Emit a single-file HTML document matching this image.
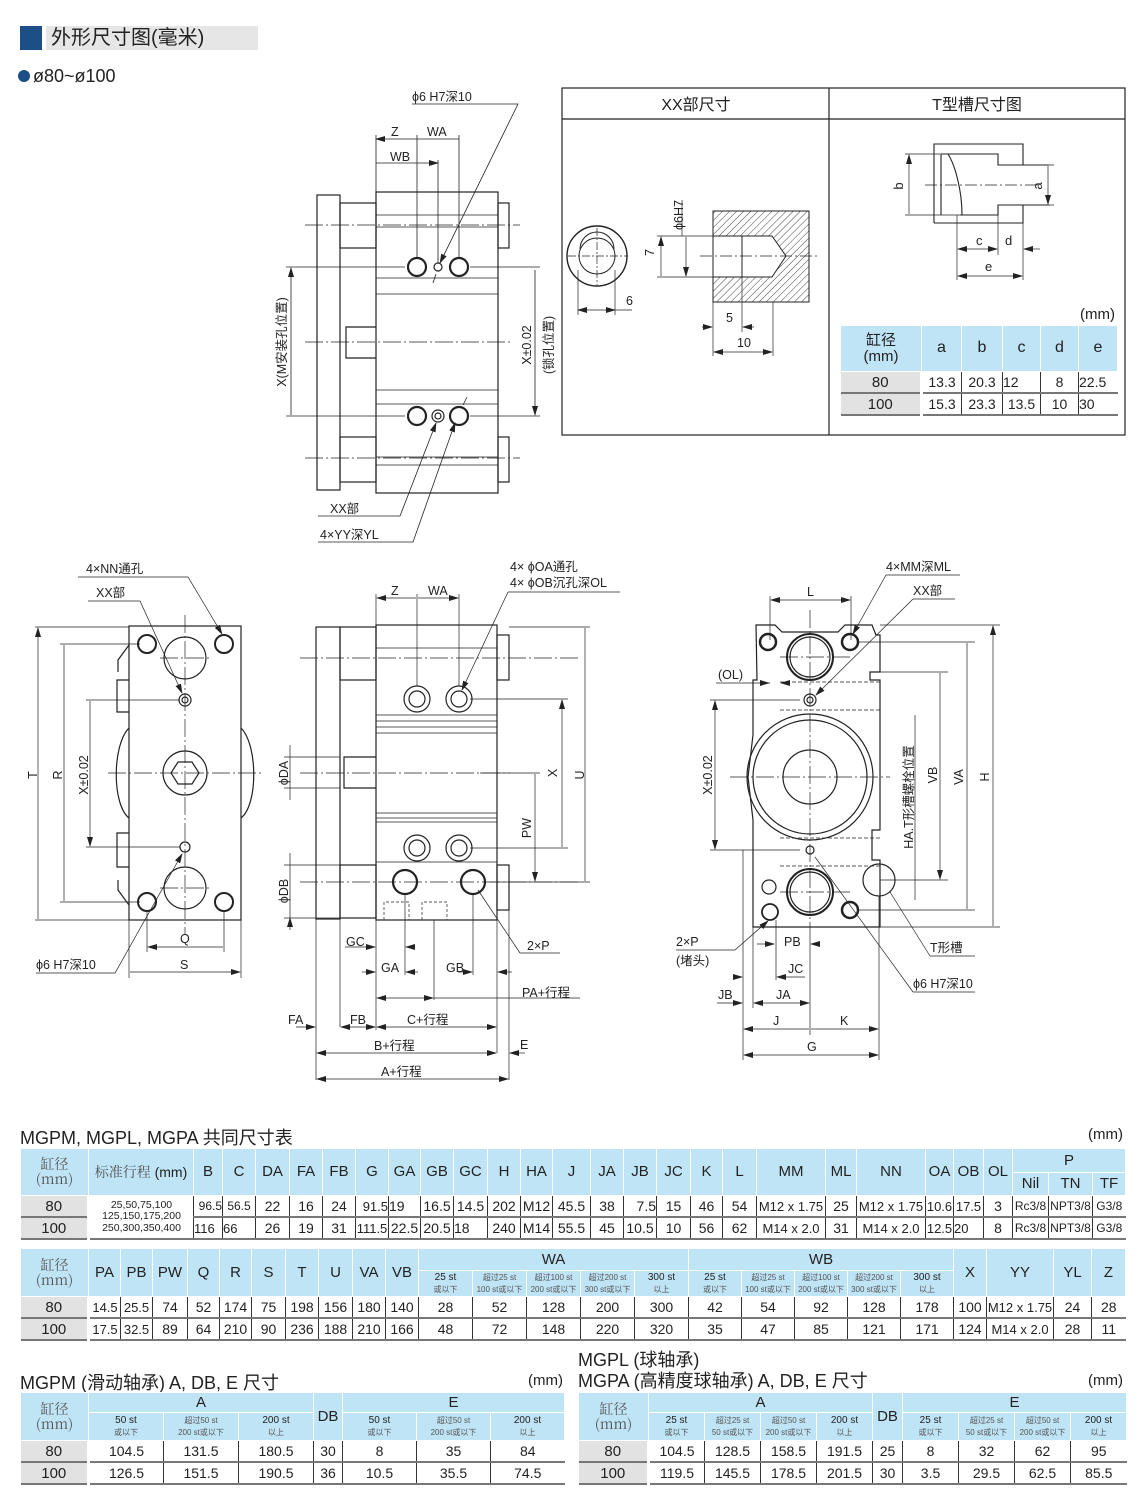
<!DOCTYPE html>
<html><head><meta charset="utf-8">
<style>
html,body{margin:0;padding:0;background:#fff;}
body{width:1140px;height:1504px;position:relative;overflow:hidden;font-family:"Liberation Sans","Noto Sans CJK SC",sans-serif;color:#222;}
.ab{position:absolute;white-space:nowrap;}
table.t{position:absolute;border-collapse:collapse;table-layout:fixed;font-family:"Liberation Sans","Noto Sans CJK SC",sans-serif;}
table.t th{background:#bfe4f6;border:1px solid #fff;font-weight:normal;font-size:15px;padding:0;text-align:center;line-height:1.05;}
table.t th.s{font-size:10px;line-height:1.15;}
table.t th.s i{font-style:normal;font-size:8px;color:#555;}
table.t td{border-left:1px solid #333;border-bottom:2px solid #777;height:20px;padding:0;text-align:center;font-size:14px;line-height:1;}
table.t td.g{background:#e2e2e2;border-left:none;border-right:3px solid #fff;font-size:15px;}
table.t td.sm{font-size:10.5px;line-height:1.1;}
table.t th.cj{font-family:"Noto Serif CJK SC",serif;font-size:14px;color:#555;}
</style></head><body>

<div class="ab" style="left:20px;top:26px;width:22px;height:24px;background:#1c4f85"></div>
<div class="ab" style="left:46px;top:26px;width:212px;height:24px;background:#e6e6e6"></div>
<div class="ab" style="left:51px;top:25px;font-size:20px;line-height:26px">外形尺寸图(毫米)</div>
<div class="ab" style="left:18px;top:70px;width:12px;height:12px;border-radius:50%;background:#1c4f85"></div>
<div class="ab" style="left:33px;top:65px;font-size:18px;line-height:22px">ø80~ø100</div>

<svg class="ab" style="left:0;top:0" width="1140" height="1110" viewBox="0 0 1140 1110" font-family="Liberation Sans, Noto Sans CJK SC, sans-serif" font-size="12.5" fill="none" stroke="#222">
<defs>
<marker id="ar" markerWidth="10" markerHeight="6" refX="9" refY="3" orient="auto-start-reverse" markerUnits="userSpaceOnUse"><path d="M0,0 L10,3 L0,6 z" fill="#222" stroke="none"/></marker>
<pattern id="hat" width="5" height="5" patternUnits="userSpaceOnUse" patternTransform="rotate(45)"><line x1="0" y1="0" x2="0" y2="5" stroke="#444" stroke-width="1"/></pattern>
</defs>

<!-- ===== top middle view ===== -->
<g stroke-width="1.2">
<rect x="317" y="195" width="23" height="295"/>
<rect x="340" y="203" width="36" height="45"/><rect x="340" y="437" width="36" height="45"/>
<rect x="376" y="192" width="122" height="301"/>
<rect x="498" y="203" width="11" height="45"/><rect x="498" y="437" width="11" height="45"/>
<path d="M376,327 H346 V358 H376 M346,327 v31"/>
<circle cx="417" cy="267" r="9" stroke-width="2.2"/><circle cx="459" cy="267" r="9" stroke-width="2.2"/><circle cx="438" cy="267" r="4"/>
<circle cx="417" cy="416" r="9" stroke-width="2.2"/><circle cx="459" cy="416" r="9" stroke-width="2.2"/><circle cx="438" cy="416" r="6"/><circle cx="438" cy="416" r="3"/>
</g>
<g stroke-width="0.8">
<path d="M376,215 H498 M376,227 H498 M376,278 H498 M376,294 H498 M376,390 H498 M376,404 H498 M376,457 H498 M376,465 H498"/>
<path d="M305,225 H520 M305,342 H510 M305,458 H520" stroke-dasharray="18,3,2,3"/>
<path d="M286,267 H405 M286,416 H405 M470,267 H540 M470,416 H540"/>
<path d="M376,135 V192 M417,135 V258 M459,135 V258 M438,160 V263"/>
<path d="M376,139 H417 M417,139 H459 M376,163 H438" marker-start="url(#ar)" marker-end="url(#ar)"/>
<path d="M291,268 V415 M535,270 V415" marker-start="url(#ar)" marker-end="url(#ar)"/>
<path d="M412,104 H518 L440,263" marker-end="url(#ar)"/><path d="M433,283 L436,274"/>
<path d="M318,516 H400 L436,423" marker-end="url(#ar)"/>
<path d="M318,542 H413 L455,423" marker-end="url(#ar)"/><path d="M463,405 L467,397"/>
</g>
<g fill="#222" stroke="none">
<text x="412" y="101">ϕ6 H7深10</text><text x="391" y="136">Z</text><text x="427" y="136">WA</text><text x="390" y="161">WB</text>
<text x="330" y="513">XX部</text><text x="320" y="539">4×YY深YL</text>
<text transform="translate(286,342) rotate(-90)" text-anchor="middle">X(M安装孔位置)</text>
<text transform="translate(531,345) rotate(-90)" text-anchor="middle">X±0.02</text>
<text transform="translate(553,345) rotate(-90)" text-anchor="middle">(锁孔位置)</text>
</g>

<!-- ===== XX / T-slot box ===== -->
<g stroke-width="1.2"><rect x="562" y="88" width="563" height="347"/><path d="M829,88 V435 M562,119 H1125"/></g>
<g fill="#222" stroke="none" font-size="16"><text x="696" y="110" text-anchor="middle">XX部尺寸</text><text x="977" y="110" text-anchor="middle">T型槽尺寸图</text></g>
<g stroke-width="1">
<circle cx="597" cy="256" r="30" stroke-width="1.4"/><circle cx="597" cy="256" r="18"/><path d="M580,249 a17,17 0 0 1 34,0" />
<rect x="713" y="211" width="96" height="91" fill="url(#hat)"/>
<path d="M713,236 H772 L786,256 L772,277 H713 Z" fill="#fff"/>
<path d="M742,236 V277"/>
</g>
<g stroke-width="0.7">
<path d="M568,256 H628 M597,228 V285" stroke-dasharray="8,2,2,2"/>
<path d="M700,256 H820" stroke-dasharray="12,3,2,3"/>
<path d="M578,270 V315 M615,270 V315 M615,310 H632"/>
<path d="M578,310 H615" marker-start="url(#ar)" marker-end="url(#ar)"/>
<path d="M657,236 H713 M657,277 H713 M682,200 V236"/>
<path d="M661,237 V276 M686,237 V276" marker-start="url(#ar)" marker-end="url(#ar)"/>
<path d="M713,302 V356 M742,277 V332 M773,302 V356"/>
<path d="M702,327 H712" marker-end="url(#ar)"/><path d="M754,327 H743" marker-end="url(#ar)"/>
<path d="M714,352 H772" marker-start="url(#ar)" marker-end="url(#ar)"/>
</g>
<g fill="#222" stroke="none"><text x="626" y="305">6</text><text x="650" y="260" transform="rotate(-90 650 256)">7</text>
<text transform="translate(683,215) rotate(-90)" text-anchor="middle">ϕ6H7</text><text x="726" y="322">5</text><text x="737" y="347">10</text></g>
<!-- T slot -->
<g stroke-width="1.1">
<path d="M934,223 V144 H1023 V165 M1023,205 V223 H934"/>
<path d="M941,215 V154 H998 V165 H1049 M1049,205 H998 V215 H960 M948,154 C955,165 962,190 962,215"/>
</g>
<g stroke-width="0.7">
<path d="M905,154 H940 M905,215 H960 M957,215 V280 M998,205 V255 M1023,223 V280 M1040,165 H1054 M1040,205 H1054"/>
<path d="M909,155 V214 M1048,166 V204" marker-start="url(#ar)" marker-end="url(#ar)"/>
<path d="M958,249 H997" marker-start="url(#ar)" marker-end="url(#ar)"/><path d="M1040,249 H1024" marker-end="url(#ar)"/>
<path d="M958,276 H1022" marker-start="url(#ar)" marker-end="url(#ar)"/>
<path d="M925,185 H1040" stroke-dasharray="12,3,2,3"/>
</g>
<g fill="#222" stroke="none" font-size="13"><text transform="translate(903,186) rotate(-90)" text-anchor="middle">b</text><text transform="translate(1042,186) rotate(-90)" text-anchor="middle">a</text>
<text x="976" y="245">c</text><text x="1005" y="245">d</text><text x="985" y="271">e</text>
<text x="1115" y="319" text-anchor="end" font-size="15">(mm)</text></g>

<!-- ===== bottom left end view ===== -->
<g stroke-width="1.2">
<rect x="129" y="626" width="112" height="294"/>
<path d="M129,680 H117 V712 H129 M129,833 H117 V867 H129 M129,645 L118,660 V672 M129,905 L118,890 V880"/>
<path d="M129,728 C112,745 112,805 129,818 M241,728 C258,745 258,805 241,818"/>
<circle cx="147" cy="644" r="9" stroke-width="2"/><circle cx="224" cy="644" r="9" stroke-width="2"/>
<circle cx="147" cy="902" r="9" stroke-width="2"/><circle cx="224" cy="902" r="9" stroke-width="2"/>
<circle cx="185" cy="658" r="21"/><circle cx="185" cy="888" r="21"/>
<circle cx="185" cy="773" r="22"/><path d="M178,762 H192 L199,773 L192,784 H178 L171,773 Z"/>
<circle cx="185" cy="700" r="6"/><circle cx="185" cy="700" r="3"/><circle cx="185" cy="847" r="5"/>
</g>
<g stroke-width="0.7">
<path d="M185,615 V935 M108,773 H262 M160,658 H210 M160,888 H210" stroke-dasharray="18,3,2,3"/>
<path d="M35,627 H129 M35,920 H129 M60,644 H140 M60,902 H140 M86,700 H180 M86,847 H180"/>
<path d="M38,628 V919 M64,645 V901 M90,701 V846" marker-start="url(#ar)" marker-end="url(#ar)"/>
<path d="M147,910 V952 M224,910 V952 M129,920 V978 M241,920 V978"/>
<path d="M148,947 H223 M130,972 H240" marker-start="url(#ar)" marker-end="url(#ar)"/>
<path d="M78,577 H188 L222,634" marker-end="url(#ar)"/>
<path d="M88,601 H140 L182,693" marker-end="url(#ar)"/>
<path d="M36,973 H115 L182,854" marker-end="url(#ar)"/>
</g>
<g fill="#222" stroke="none"><text x="86" y="573">4×NN通孔</text><text x="96" y="597">XX部</text><text x="36" y="969">ϕ6 H7深10</text>
<text x="180" y="943">Q</text><text x="180" y="969">S</text>
<text transform="translate(37,775) rotate(-90)" text-anchor="middle">T</text>
<text transform="translate(62,775) rotate(-90)" text-anchor="middle">R</text>
<text transform="translate(88,775) rotate(-90)" text-anchor="middle">X±0.02</text></g>

<!-- ===== bottom middle side view ===== -->
<g stroke-width="1.2">
<rect x="316" y="627" width="24" height="292"/>
<rect x="340" y="627" width="36" height="53"/><rect x="340" y="865" width="36" height="53"/>
<rect x="376" y="625" width="121" height="295"/>
<rect x="497" y="635" width="12" height="45"/><rect x="497" y="865" width="12" height="45"/>
<path d="M376,757 H344 V788 H376"/>
<circle cx="417" cy="699" r="13"/><circle cx="417" cy="699" r="8"/><circle cx="459" cy="699" r="13"/><circle cx="459" cy="699" r="8"/>
<circle cx="417" cy="848" r="13"/><circle cx="417" cy="848" r="8"/><circle cx="459" cy="848" r="13"/><circle cx="459" cy="848" r="8"/>
<circle cx="405" cy="882" r="12" stroke-width="2.2"/><circle cx="473" cy="882" r="12" stroke-width="2.2"/>
</g>
<g stroke-width="0.7">
<path d="M376,648 H497 M376,715 H497 M376,721 H497 M376,727 H497 M376,733 H497 M376,813 H497 M376,818 H497 M376,822 H497 M376,862 H497"/>
<path d="M384,920 V902 H409 V920 M422,920 V902 H447 V920" stroke-dasharray="3,2"/>
<path d="M300,658 H580 M300,773 H510 M300,882 H580" stroke-dasharray="18,3,2,3"/>
<path d="M284,757 H340 M284,788 H340 M284,865 H340 M284,918 H340"/>
<path d="M290,745 V757 M290,800 V788 M290,853 V865 M290,930 V918" marker-end="url(#ar)"/><path d="M290,757 V788 M290,865 V918"/>
<path d="M470,699 H568 M470,848 H568 M509,627 H590 M490,882 H590 M480,773 H540"/>
<path d="M562,700 V847 M585,628 V881 M535,774 V881" marker-start="url(#ar)" marker-end="url(#ar)"/>
<path d="M376,594 V625 M417,594 V686 M459,594 V686"/>
<path d="M377,598 H416 M418,598 H458" marker-start="url(#ar)" marker-end="url(#ar)"/>
<path d="M508,592 H620 M508,592 L462,690" marker-end="url(#ar)"/>
<path d="M520,953 H560 M520,953 L478,890"/>
<path d="M405,894 V975 M434,920 V1000 M473,894 V975 M340,918 V1027 M376,920 V1030 M316,919 V1080 M497,910 V1053 M509,910 V1080"/>
<path d="M345,947 H375" marker-end="url(#ar)"/><path d="M412,947 H406" marker-end="url(#ar)"/>
<path d="M362,972 H375" marker-end="url(#ar)"/><path d="M418,972 H406" marker-end="url(#ar)"/>
<path d="M458,972 H472" marker-end="url(#ar)"/><path d="M512,972 H498" marker-end="url(#ar)"/>
<path d="M377,998 H433" marker-start="url(#ar)" marker-end="url(#ar)"/><path d="M434,998 H580"/>
<path d="M296,1027 H315" marker-end="url(#ar)"/><path d="M341,1027 H375" marker-start="url(#ar)" marker-end="url(#ar)"/>
<path d="M377,1027 H496" marker-start="url(#ar)" marker-end="url(#ar)"/>
<path d="M317,1053 H496" marker-start="url(#ar)" marker-end="url(#ar)"/><path d="M525,1053 H510" marker-end="url(#ar)"/>
<path d="M317,1079 H508" marker-start="url(#ar)" marker-end="url(#ar)"/>
</g>
<g fill="#222" stroke="none"><text x="391" y="595">Z</text><text x="428" y="595">WA</text>
<text x="510" y="571">4× ϕOA通孔</text><text x="510" y="587">4× ϕOB沉孔深OL</text>
<text transform="translate(288,773) rotate(-90)" text-anchor="middle">ϕDA</text>
<text transform="translate(288,891) rotate(-90)" text-anchor="middle">ϕDB</text>
<text transform="translate(557,773) rotate(-90)" text-anchor="middle">X</text>
<text transform="translate(584,775) rotate(-90)" text-anchor="middle">U</text>
<text transform="translate(531,828) rotate(-90)" text-anchor="middle">PW</text>
<text x="346" y="946">GC</text><text x="381" y="972">GA</text><text x="446" y="972">GB</text><text x="527" y="950">2×P</text>
<text x="522" y="997">PA+行程</text><text x="288" y="1024">FA</text><text x="350" y="1024">FB</text><text x="407" y="1024">C+行程</text>
<text x="374" y="1050">B+行程</text><text x="520" y="1049">E</text><text x="381" y="1076">A+行程</text></g>

<!-- ===== bottom right end view ===== -->
<g stroke-width="1.2">
<path d="M756,625 H775 L782,632 H838 L845,625 H872 L876,635 H880 V672 H870 V680 H880 V830 H872 V860 H880 V927 H753 V820 L748,777 L753,735 V680 H757 Z"/>
<circle cx="810" cy="777" r="63"/><circle cx="810" cy="777" r="57"/><circle cx="810" cy="777" r="27"/>
<circle cx="810" cy="657" r="23" stroke-width="2"/><circle cx="810" cy="657" r="20"/>
<circle cx="810" cy="892" r="23" stroke-width="2"/><circle cx="810" cy="892" r="20"/>
<circle cx="768" cy="642" r="8" stroke-width="2.5"/><circle cx="850" cy="642" r="8" stroke-width="2.5"/><circle cx="850" cy="910" r="8" stroke-width="2.5"/>
<circle cx="769" cy="887" r="7"/><circle cx="770" cy="912" r="8" stroke-width="1.8"/>
<circle cx="810" cy="700" r="6"/><circle cx="810" cy="700" r="3"/><circle cx="810" cy="850" r="4"/>
<circle cx="879" cy="880" r="16"/>
</g>
<g stroke-width="0.7">
<path d="M780,682 H880 M780,710 H880 M780,838 H880 M780,866 H880" stroke-dasharray="4,2"/>
<path d="M810,610 V935 M730,777 H890 M780,657 H850 M780,892 H850" stroke-dasharray="18,3,2,3"/>
<path d="M770,596 V640 M851,596 V640"/>
<path d="M771,600 H850" marker-start="url(#ar)" marker-end="url(#ar)"/>
<path d="M880,625 H1000 M858,642 H975 M880,672 H948 M880,880 H948 M858,910 H975 M880,927 H1000 M710,700 H800 M710,850 H800"/>
<path d="M993,626 V926 M967,643 V909 M940,673 V879" marker-start="url(#ar)" marker-end="url(#ar)"/>
<path d="M915,715 V880 M915,880 V900"/>
<path d="M715,701 V849" marker-start="url(#ar)" marker-end="url(#ar)"/>
<path d="M716,683 H770" /><path d="M760,683 H769" marker-end="url(#ar)"/><path d="M790,683 H781" marker-end="url(#ar)"/>
<path d="M886,575 H960 M886,575 L853,634" marker-end="url(#ar)"/>
<path d="M913,599 H955 M913,599 L816,695" marker-end="url(#ar)"/>
<path d="M930,956 H975 M930,956 L890,892"/>
<path d="M913,992 H975 M913,992 L815,857"/>
<path d="M676,950 H735 L768,921" marker-end="url(#ar)"/>
<path d="M743,850 V1060 M753,927 V1008 M776,920 V980 M810,935 V1035 M879,896 V1060"/>
<path d="M757,944 H774" marker-end="url(#ar)"/><path d="M820,944 H811" marker-end="url(#ar)"/>
<path d="M735,977 H742" marker-end="url(#ar)"/><path d="M805,977 H777" marker-end="url(#ar)"/>
<path d="M717,1003 H742" marker-end="url(#ar)"/><path d="M754,1003 H809" marker-start="url(#ar)" marker-end="url(#ar)"/>
<path d="M744,1029 H809 M811,1029 H878" marker-start="url(#ar)" marker-end="url(#ar)"/>
<path d="M744,1055 H878" marker-start="url(#ar)" marker-end="url(#ar)"/>
</g>
<g fill="#222" stroke="none"><text x="807" y="596">L</text><text x="886" y="571">4×MM深ML</text><text x="913" y="595">XX部</text>
<text x="718" y="679">(OL)</text>
<text transform="translate(712,775) rotate(-90)" text-anchor="middle">X±0.02</text>
<text transform="translate(913,797) rotate(-90)" text-anchor="middle">HA.T形槽螺栓位置</text>
<text transform="translate(937,775) rotate(-90)" text-anchor="middle">VB</text>
<text transform="translate(963,777) rotate(-90)" text-anchor="middle">VA</text>
<text transform="translate(989,777) rotate(-90)" text-anchor="middle">H</text>
<text x="930" y="952">T形槽</text><text x="913" y="988">ϕ6 H7深10</text>
<text x="676" y="946">2×P</text><text x="676" y="965">(堵头)</text>
<text x="784" y="946">PB</text><text x="788" y="973">JC</text><text x="718" y="999">JB</text><text x="776" y="999">JA</text>
<text x="773" y="1025">J</text><text x="840" y="1025">K</text><text x="807" y="1051">G</text></g>
</svg>

<!-- mini T table -->
<table class="t" style="left:840px;top:325px;width:277px">
<colgroup><col style="width:81px"><col style="width:40px"><col style="width:41px"><col style="width:38px"><col style="width:38px"><col style="width:39px"></colgroup>
<tr style="height:46px"><th>缸径<br>(mm)</th><th style="font-size:16px">a</th><th style="font-size:16px">b</th><th style="font-size:16px">c</th><th style="font-size:16px">d</th><th style="font-size:16px">e</th></tr>
<tr><td class="g">80</td><td>13.3</td><td>20.3</td><td style="text-align:left">12</td><td>8</td><td style="text-align:left">22.5</td></tr>
<tr><td class="g">100</td><td>15.3</td><td>23.3</td><td>13.5</td><td>10</td><td style="text-align:left">30</td></tr>
</table>

<div class="ab" style="left:20px;top:1124px;font-size:18px">MGPM, MGPL, MGPA 共同尺寸表</div>
<div class="ab" style="left:1088px;top:1126px;font-size:15px">(mm)</div>

<table class="t" style="left:20px;top:1148px;width:1105px">
<colgroup><col style="width:68px"><col style="width:105px"><col style="width:29px"><col style="width:33px"><col style="width:34px"><col style="width:33px"><col style="width:33px"><col style="width:33px"><col style="width:32px"><col style="width:33px"><col style="width:34px"><col style="width:33px"><col style="width:32px"><col style="width:38px"><col style="width:33px"><col style="width:33px"><col style="width:34px"><col style="width:32px"><col style="width:34px"><col style="width:69px"><col style="width:31px"><col style="width:69px"><col style="width:28px"><col style="width:30px"><col style="width:29px"><col style="width:36px"><col style="width:44px"><col style="width:33px"></colgroup>
<tr style="height:24px"><th rowspan="2" class="cj">缸径<br>(mm)</th><th rowspan="2" style="font-size:14px"><span style="font-family:'Noto Serif CJK SC',serif;color:#555">标准行程</span> (mm)</th><th rowspan="2">B</th><th rowspan="2">C</th><th rowspan="2">DA</th><th rowspan="2">FA</th><th rowspan="2">FB</th><th rowspan="2">G</th><th rowspan="2">GA</th><th rowspan="2">GB</th><th rowspan="2">GC</th><th rowspan="2">H</th><th rowspan="2">HA</th><th rowspan="2">J</th><th rowspan="2">JA</th><th rowspan="2">JB</th><th rowspan="2">JC</th><th rowspan="2">K</th><th rowspan="2">L</th><th rowspan="2">MM</th><th rowspan="2">ML</th><th rowspan="2">NN</th><th rowspan="2">OA</th><th rowspan="2">OB</th><th rowspan="2">OL</th><th colspan="3">P</th></tr>
<tr style="height:23px"><th>Nil</th><th>TN</th><th>TF</th></tr>
<tr><td class="g">80</td><td rowspan="2" class="sm">25,50,75,100<br>125,150,175,200<br>250,300,350,400</td><td style="text-align:right;font-size:12px">96.5</td><td style="font-size:12px">56.5</td><td>22</td><td>16</td><td>24</td><td style="text-align:right;font-size:13px">91.5</td><td style="text-align:left">19</td><td>16.5</td><td>14.5</td><td>202</td><td>M12</td><td>45.5</td><td>38</td><td style="text-align:right">7.5</td><td>15</td><td>46</td><td>54</td><td style="font-size:13px">M12 x 1.75</td><td>25</td><td style="font-size:13px">M12 x 1.75</td><td style="font-size:13px">10.6</td><td style="font-size:13px">17.5</td><td>3</td><td style="font-size:12px">Rc3/8</td><td style="font-size:12px">NPT3/8</td><td style="font-size:12px">G3/8</td></tr>
<tr><td class="g">100</td><td style="text-align:left;font-size:13px">116</td><td style="text-align:left;font-size:13px">66</td><td>26</td><td>19</td><td>31</td><td style="font-size:13px">111.5</td><td>22.5</td><td>20.5</td><td style="text-align:left">18</td><td>240</td><td>M14</td><td>55.5</td><td>45</td><td>10.5</td><td>10</td><td>56</td><td>62</td><td style="font-size:13px">M14 x 2.0</td><td>31</td><td style="font-size:13px">M14 x 2.0</td><td style="font-size:13px">12.5</td><td style="text-align:left;font-size:13px">20</td><td>8</td><td style="font-size:12px">Rc3/8</td><td style="font-size:12px">NPT3/8</td><td style="font-size:12px">G3/8</td></tr>
</table>

<table class="t" style="left:20px;top:1248px;width:1105px">
<colgroup><col style="width:68px"><col style="width:32px"><col style="width:32px"><col style="width:35px"><col style="width:32px"><col style="width:32px"><col style="width:34px"><col style="width:33px"><col style="width:34px"><col style="width:33px"><col style="width:33px"><col style="width:54px"><col style="width:54px"><col style="width:54px"><col style="width:54px"><col style="width:54px"><col style="width:53px"><col style="width:53px"><col style="width:53px"><col style="width:53px"><col style="width:53px"><col style="width:33px"><col style="width:67px"><col style="width:38px"><col style="width:34px"></colgroup>
<tr style="height:22px"><th rowspan="2" class="cj">缸径<br>(mm)</th><th rowspan="2">PA</th><th rowspan="2">PB</th><th rowspan="2">PW</th><th rowspan="2">Q</th><th rowspan="2">R</th><th rowspan="2">S</th><th rowspan="2">T</th><th rowspan="2">U</th><th rowspan="2">VA</th><th rowspan="2">VB</th><th colspan="5">WA</th><th colspan="5">WB</th><th rowspan="2">X</th><th rowspan="2">YY</th><th rowspan="2">YL</th><th rowspan="2">Z</th></tr>
<tr style="height:26px"><th class="s">25 st<br><i>或以下</i></th><th class="s"><i>超过25 st<br>100 st或以下</i></th><th class="s"><i>超过100 st<br>200 st或以下</i></th><th class="s"><i>超过200 st<br>300 st或以下</i></th><th class="s">300 st<br><i>以上</i></th><th class="s">25 st<br><i>或以下</i></th><th class="s"><i>超过25 st<br>100 st或以下</i></th><th class="s"><i>超过100 st<br>200 st或以下</i></th><th class="s"><i>超过200 st<br>300 st或以下</i></th><th class="s">300 st<br><i>以上</i></th></tr>
<tr><td class="g">80</td><td style="font-size:13px">14.5</td><td style="font-size:13px">25.5</td><td>74</td><td>52</td><td>174</td><td>75</td><td>198</td><td>156</td><td>180</td><td>140</td><td>28</td><td>52</td><td>128</td><td>200</td><td>300</td><td>42</td><td>54</td><td>92</td><td>128</td><td>178</td><td>100</td><td style="font-size:13px">M12 x 1.75</td><td>24</td><td>28</td></tr>
<tr><td class="g">100</td><td style="font-size:13px">17.5</td><td style="font-size:13px">32.5</td><td>89</td><td>64</td><td>210</td><td>90</td><td>236</td><td>188</td><td>210</td><td>166</td><td>48</td><td>72</td><td>148</td><td>220</td><td>320</td><td>35</td><td>47</td><td>85</td><td>121</td><td>171</td><td>124</td><td style="font-size:13px">M14 x 2.0</td><td>28</td><td>11</td></tr>
</table>

<div class="ab" style="left:20px;top:1369px;font-size:18px">MGPM (滑动轴承) A, DB, E 尺寸</div>
<div class="ab" style="left:528px;top:1372px;font-size:15px">(mm)</div>
<div class="ab" style="left:578px;top:1346px;font-size:18px">MGPL (球轴承)</div>
<div class="ab" style="left:578px;top:1367px;font-size:18px">MGPA (高精度球轴承) A, DB, E 尺寸</div>
<div class="ab" style="left:1088px;top:1372px;font-size:15px">(mm)</div>

<table class="t" style="left:20px;top:1392px;width:544px">
<colgroup><col style="width:68px"><col style="width:75px"><col style="width:75px"><col style="width:75px"><col style="width:29px"><col style="width:74px"><col style="width:74px"><col style="width:74px"></colgroup>
<tr style="height:20px"><th rowspan="2" class="cj">缸径<br>(mm)</th><th colspan="3">A</th><th rowspan="2">DB</th><th colspan="3">E</th></tr>
<tr style="height:28px"><th class="s">50 st<br><i>或以下</i></th><th class="s"><i>超过50 st<br>200 st或以下</i></th><th class="s">200 st<br><i>以上</i></th><th class="s">50 st<br><i>或以下</i></th><th class="s"><i>超过50 st<br>200 st或以下</i></th><th class="s">200 st<br><i>以上</i></th></tr>
<tr><td class="g">80</td><td>104.5</td><td>131.5</td><td>180.5</td><td>30</td><td>8</td><td>35</td><td>84</td></tr>
<tr><td class="g">100</td><td>126.5</td><td>151.5</td><td>190.5</td><td>36</td><td>10.5</td><td>35.5</td><td>74.5</td></tr>
</table>

<table class="t" style="left:578px;top:1392px;width:548px">
<colgroup><col style="width:70px"><col style="width:56px"><col style="width:56px"><col style="width:56px"><col style="width:56px"><col style="width:30px"><col style="width:56px"><col style="width:56px"><col style="width:56px"><col style="width:56px"></colgroup>
<tr style="height:20px"><th rowspan="2" class="cj">缸径<br>(mm)</th><th colspan="4">A</th><th rowspan="2">DB</th><th colspan="4">E</th></tr>
<tr style="height:28px"><th class="s">25 st<br><i>或以下</i></th><th class="s"><i>超过25 st<br>50 st或以下</i></th><th class="s"><i>超过50 st<br>200 st或以下</i></th><th class="s">200 st<br><i>以上</i></th><th class="s">25 st<br><i>或以下</i></th><th class="s"><i>超过25 st<br>50 st或以下</i></th><th class="s"><i>超过50 st<br>200 st或以下</i></th><th class="s">200 st<br><i>以上</i></th></tr>
<tr><td class="g">80</td><td>104.5</td><td>128.5</td><td>158.5</td><td>191.5</td><td>25</td><td>8</td><td>32</td><td>62</td><td>95</td></tr>
<tr><td class="g">100</td><td>119.5</td><td>145.5</td><td>178.5</td><td>201.5</td><td>30</td><td>3.5</td><td>29.5</td><td>62.5</td><td>85.5</td></tr>
</table>
</body></html>
